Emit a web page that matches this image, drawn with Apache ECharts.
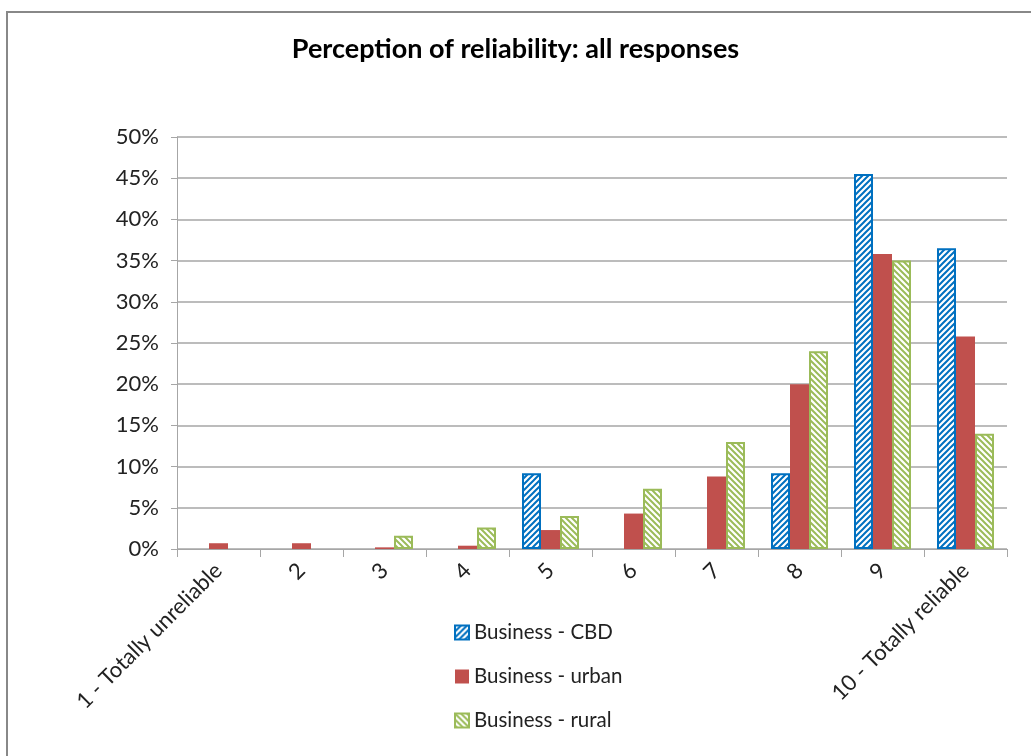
<!DOCTYPE html>
<html><head><meta charset="utf-8">
<script src="https://cdn.jsdelivr.net/npm/echarts@6/dist/echarts.min.js"></script>
<style>html,body{margin:0;padding:0;background:#fff}#c{width:1031px;height:756px}</style>
</head><body><div id="c"></div>
<script>
const categories = ['1 - Totally unreliable','2','3','4','5','6','7','8','9','10 - Totally reliable'];
const cbd   = [0, 0, 0, 0, 9.2, 0, 0, 9.2, 45.5, 36.5];
const urban = [0.7, 0.7, 0.2, 0.4, 2.3, 4.3, 8.8, 20.0, 35.8, 25.8];
const rural = [0, 0, 1.6, 2.6, 4.0, 7.3, 13.0, 24.0, 35.0, 14.0];
const yTicks = [0,5,10,15,20,25,30,35,40,45,50];

function hatch(color, dir){
  const s = 6, c = document.createElement('canvas');
  c.width = s; c.height = s;
  const g = c.getContext('2d');
  g.fillStyle = '#fff'; g.fillRect(0,0,s,s);
  g.strokeStyle = color; g.lineWidth = 2;
  g.beginPath();
  if (dir === '/') {
    g.moveTo(-1, s+1); g.lineTo(s+1, -1);
    g.moveTo(-1, 1); g.lineTo(1, -1);
    g.moveTo(s-1, s+1); g.lineTo(s+1, s-1);
  } else {
    g.moveTo(-1, -1); g.lineTo(s+1, s+1);
    g.moveTo(s-1, -1); g.lineTo(s+1, 1);
    g.moveTo(-1, s-1); g.lineTo(1, s+1);
  }
  g.stroke();
  return {image: c, repeat: 'repeat'};
}
const hide0 = arr => arr.map(v => v === 0 ? null : v);
const BLUE = '#0070C0', RED = '#C0504D', GREEN = '#9BBB59';
const FONT = 'Lato';
const chart = echarts.init(document.getElementById('c'));
chart.setOption({
  animation: false,
  title: {text: 'Perception of reliability: all responses', left: 'center', top: 31,
    textStyle: {fontFamily: FONT, fontSize: 27, fontWeight: 'bold', color: '#000'}},
  graphic: [{type: 'rect', shape: {x: 7, y: 12, width: 1040, height: 760},
    style: {fill: 'none', stroke: '#888', lineWidth: 2}, silent: true}],
  legend: {orient: 'vertical', left: 449, top: 617, itemGap: 23, itemWidth: 14, itemHeight: 14,
    icon: 'rect',
    textStyle: {fontFamily: FONT, fontSize: 20.5, color: '#222'},
    data: ['Business - CBD','Business - urban','Business - rural']},
  grid: {left: 177, right: 24, top: 137, bottom: 207},
  xAxis: {type: 'category', data: categories,
    axisLine: {lineStyle: {color: '#A6A6A6'}},
    axisTick: {show: true, alignWithLabel: false, length: 8, lineStyle: {color: '#A6A6A6'}},
    axisLabel: {rotate: 45, interval: 0, margin: 18, fontFamily: FONT, fontSize: 22, color: '#222'}},
  yAxis: {type: 'value', min: 0, max: 50, interval: 5,
    axisLine: {show: true, lineStyle: {color: '#A6A6A6'}},
    axisTick: {show: true, length: 6, lineStyle: {color: '#A6A6A6'}},
    splitLine: {lineStyle: {color: '#A6A6A6', width: 1.5}},
    axisLabel: {formatter: v => yTicks.includes(v) ? v + '%' : '', margin: 18, fontFamily: FONT, fontSize: 22, color: '#222'}},
  series: [
    {name: 'Business - CBD', type: 'bar', data: hide0(cbd), barWidth: 19, barGap: '0%',
      itemStyle: {color: hatch(BLUE, '/'), borderColor: BLUE, borderWidth: 2}},
    {name: 'Business - urban', type: 'bar', data: hide0(urban), barWidth: 19, barGap: '0%',
      itemStyle: {color: RED}},
    {name: 'Business - rural', type: 'bar', data: hide0(rural), barWidth: 19, barGap: '0%',
      itemStyle: {color: hatch(GREEN, '\\'), borderColor: GREEN, borderWidth: 2}}
  ]
});
</script></body></html>
